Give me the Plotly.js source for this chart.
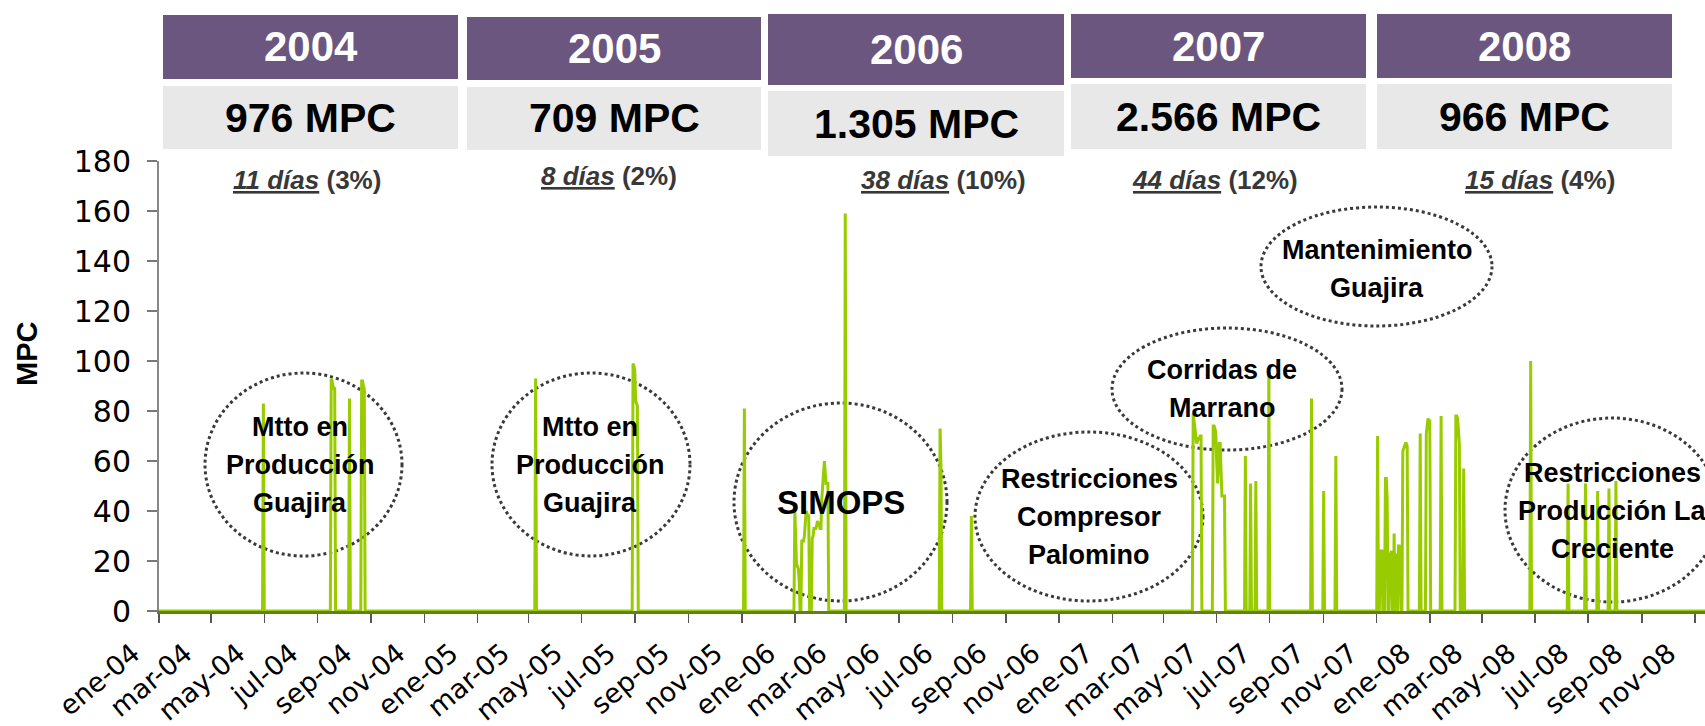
<!DOCTYPE html>
<html>
<head>
<meta charset="utf-8">
<script src="https://cdn.plot.ly/plotly-3.0.1.min.js"></script>
<style>html,body{margin:0;padding:0;background:#fff;}#chart{width:1705px;height:726px;}</style>
</head>
<body>
<div id="chart"></div>
<script>
// ---------------- DATA ----------------
// Runs of consecutive days with volume (MPC); every other day is 0.
const runStarts = [
  '2004-04-30','2004-07-17','2004-08-07','2004-08-21',
  '2005-03-09','2005-06-29','2005-11-04',
  '2006-01-01','2006-02-28','2006-06-17','2006-07-23',
  '2007-04-04','2007-04-27','2007-06-03','2007-06-09','2007-06-15','2007-06-30',
  '2007-08-18','2007-09-01','2007-09-15','2007-11-02',
  '2007-12-21','2007-12-28','2008-01-14','2008-01-31','2008-04-26',
  '2008-06-08','2008-06-28','2008-07-12','2008-07-25','2008-08-02'
];
const runValues = [
  [83],[93,92,90,89,89],[85],[92,92,90,89],
  [93],[99,98,96,84,83,82],[81],
  [40,28,18,18,17,12,0,0,28,28,28,30,38,40,39,38,38,0,0,0,29,30,33,33,33,34,36,35,35,33,33,45,50,55,60,55,51,51,51],
  [159],[73,58],[38],
  [79,76,73,70,67,68,69,69,70,70],
  [74,74,73,71,60,51,58,67,67,55,46,46,46,46],
  [62],[51],[52],[95],
  [85],[48],[62],
  [70,0,0,24,24,24,0,0,0,53,53,45,0,0,22,23,24,0,0,31,0,23,0,0,26,26,25,0,0,64,65,66,67,67,66],
  [71],[71,74,77,76,76],[78],[78,78,77,72,67,0,0,0,0,57],[100],
  [51],[51],[48],[49],[52]
];
const seriesFirstDay = '2004-01-01';
const seriesLastDay  = '2008-11-13';

const tickDates = [
  '2004-01-01','2004-03-01','2004-05-01','2004-07-01','2004-09-01','2004-11-01',
  '2005-01-01','2005-03-01','2005-05-01','2005-07-01','2005-09-01','2005-11-01',
  '2006-01-01','2006-03-01','2006-05-01','2006-07-01','2006-09-01','2006-11-01',
  '2007-01-01','2007-03-01','2007-05-01','2007-07-01','2007-09-01','2007-11-01',
  '2008-01-01','2008-03-01','2008-05-01','2008-07-01','2008-09-01','2008-11-01'
];
const tickLabels = [
  'ene-04','mar-04','may-04','jul-04','sep-04','nov-04',
  'ene-05','mar-05','may-05','jul-05','sep-05','nov-05',
  'ene-06','mar-06','may-06','jul-06','sep-06','nov-06',
  'ene-07','mar-07','may-07','jul-07','sep-07','nov-07',
  'ene-08','mar-08','may-08','jul-08','sep-08','nov-08'
];
const yTitle = 'MPC';

const years     = ['2004','2005','2006','2007','2008'];
const totals    = ['976 MPC','709 MPC','1.305 MPC','2.566 MPC','966 MPC'];
const dayCounts = ['11 días','8 días','38 días','44 días','15 días'];
const pcts      = ['(3%)','(2%)','(10%)','(12%)','(4%)'];

const notes = [
  ['Mtto en','Producción','Guajira'],
  ['Mtto en','Producción','Guajira'],
  ['SIMOPS'],
  ['Restricciones','Compresor','Palomino'],
  ['Corridas de','Marrano'],
  ['Mantenimiento','Guajira'],
  ['Restricciones','Producción La','Creciente']
];

// ---------------- BUILD DAILY SERIES ----------------
const DAY = 86400000;
function parse(s){ const p = s.split('-').map(Number); return Date.UTC(p[0], p[1]-1, p[2]); }
function iso(t){ return new Date(t).toISOString().slice(0,10); }
const valueByDay = {};
runStarts.forEach((s, i) => {
  const t0 = parse(s);
  runValues[i].forEach((v, k) => { valueByDay[iso(t0 + k*DAY)] = v; });
});
const xs = [], ys = [];
for (let t = parse(seriesFirstDay); t <= parse(seriesLastDay); t += DAY) {
  const d = iso(t);
  xs.push(d);
  ys.push(valueByDay[d] || 0);
}

// ---------------- LAYOUT GEOMETRY (pixels) ----------------
const PL = 159, PR = 1705, PT = 161, PB = 611;
const fx = px => (px - PL) / (PR - PL);
const fy = py => (PB - py) / (PB - PT);

const headerGeom = [
  {x0:163,  x1:458,  py0:15, py1:79, gy0:86, gy1:149, dx:307,  dy:180},
  {x0:467,  x1:761,  py0:17, py1:80, gy0:87, gy1:150, dx:609,  dy:176},
  {x0:768,  x1:1064, py0:14, py1:85, gy0:91, gy1:156, dx:943,  dy:180},
  {x0:1071, x1:1366, py0:14, py1:78, gy0:84, gy1:149, dx:1215, dy:180},
  {x0:1377, x1:1672, py0:14, py1:78, gy0:84, gy1:149, dx:1540, dy:180}
];
const noteGeom = [
  {x0:205,  x1:402,  y0:373, y1:556, tx:300,  ty:465, size:27},
  {x0:492,  x1:690,  y0:373, y1:556, tx:590,  ty:465, size:27},
  {x0:734,  x1:947,  y0:403, y1:601, tx:841,  ty:502, size:33},
  {x0:975,  x1:1203, y0:432, y1:601, tx:1089, ty:517, size:27},
  {x0:1112, x1:1342, y0:328, y1:450, tx:1222, ty:389, size:27},
  {x0:1261, x1:1492, y0:207, y1:326, tx:1377, ty:269, size:27},
  {x0:1505, x1:1719, y0:418, y1:602, tx:1612, ty:511, size:27}
];
const noteLineGap = 38;

const BOLD = 'Liberation Sans, Arial, sans-serif';
const shapes = [], annotations = [];

headerGeom.forEach((g, i) => {
  shapes.push({type:'rect', xref:'paper', yref:'paper', layer:'above',
    x0:fx(g.x0), x1:fx(g.x1), y0:fy(g.py1), y1:fy(g.py0),
    fillcolor:'#6B5680', line:{width:0}});
  shapes.push({type:'rect', xref:'paper', yref:'paper', layer:'above',
    x0:fx(g.x0), x1:fx(g.x1), y0:fy(g.gy1), y1:fy(g.gy0),
    fillcolor:'#E8E8E8', line:{width:0}});
  annotations.push({xref:'paper', yref:'paper', x:fx((g.x0+g.x1)/2), y:fy((g.py0+g.py1)/2),
    xanchor:'center', yanchor:'middle', showarrow:false, text:'<b>'+years[i]+'</b>',
    font:{family:BOLD, size:42, color:'#ffffff'}});
  annotations.push({xref:'paper', yref:'paper', x:fx((g.x0+g.x1)/2), y:fy((g.gy0+g.gy1)/2),
    xanchor:'center', yanchor:'middle', showarrow:false, text:'<b>'+totals[i]+'</b>',
    font:{family:BOLD, size:41, color:'#000000'}});
  annotations.push({xref:'paper', yref:'paper', x:fx(g.dx), y:fy(g.dy),
    xanchor:'center', yanchor:'middle', showarrow:false,
    text:'<b><u><i>'+dayCounts[i]+'</i></u> '+pcts[i]+'</b>',
    font:{family:BOLD, size:26, color:'#383838'}});
});

noteGeom.forEach((g, i) => {
  shapes.push({type:'circle', xref:'paper', yref:'paper', layer:'below',
    x0:fx(g.x0), x1:fx(g.x1), y0:fy(g.y1), y1:fy(g.y0),
    line:{color:'#3a3a3a', width:3, dash:'dot'}});
  const lines = notes[i], n = lines.length;
  lines.forEach((txt, k) => {
    annotations.push({xref:'paper', yref:'paper', x:fx(g.tx), y:fy(g.ty + (k - (n-1)/2)*noteLineGap),
      xanchor:'center', yanchor:'middle', showarrow:false, text:'<b>'+txt+'</b>',
      font:{family:BOLD, size:g.size, color:'#000000'}});
  });
});

// y axis title placed as rotated text (left of tick labels, centred at 354px)
annotations.push({xref:'paper', yref:'paper', x:fx(27), y:fy(354), xanchor:'center', yanchor:'middle',
  showarrow:false, textangle:-90, text:'<b>'+yTitle+'</b>',
  font:{family:BOLD, size:29, color:'#000000'}});

const trace = {
  type:'scatter', mode:'lines', x:xs, y:ys,
  line:{color:'#99CC00', width:3}, hoverinfo:'skip'
};

const layout = {
  width:1705, height:726,
  margin:{l:PL, r:0, t:PT, b:726-PB, pad:0},
  paper_bgcolor:'#ffffff', plot_bgcolor:'rgba(0,0,0,0)',
  showlegend:false,
  xaxis:{
    type:'date', range:['2004-01-01','2008-11-12 10:00'],
    tickmode:'array', tickvals:tickDates, ticktext:tickLabels, tickangle:-40,
    ticks:'outside', ticklen:9, tickwidth:1.5, tickcolor:'#555555',
    ticklabelshift:-26, ticklabelstandoff:4, ticklabeloverflow:'allow',
    showline:true, linecolor:'#5F7F1A', linewidth:3, layer:'above traces',
    showgrid:false, zeroline:false,
    tickfont:{family:'DejaVu Sans', size:27, color:'#000000'},
    fixedrange:true
  },
  yaxis:{
    range:[0,180], tickmode:'linear', tick0:0, dtick:20,
    ticks:'outside', ticklen:10, tickwidth:1.5, tickcolor:'#777777',
    ticklabelstandoff:10,
    showline:true, linecolor:'#888888', linewidth:2,
    showgrid:false, zeroline:false,
    tickfont:{family:'DejaVu Sans', size:30, color:'#000000'},
    fixedrange:true
  },
  shapes:shapes,
  annotations:annotations
};

Plotly.newPlot('chart', [trace], layout, {staticPlot:true, displayModeBar:false});
</script>
</body>
</html>
